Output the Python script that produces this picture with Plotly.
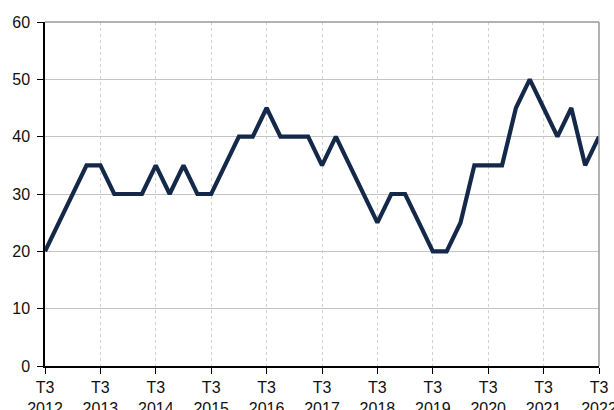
import plotly.graph_objects as go

quarters = []
for y in range(2012, 2023):
    for q in (1, 2, 3, 4):
        if (y == 2012 and q < 3) or (y == 2022 and q > 3):
            continue
        quarters.append(f"T{q} {y}")

values = [20, 25, 30, 35, 35, 30, 30, 30, 35, 30, 35, 30, 30, 35, 40, 40,
          45, 40, 40, 40, 35, 40, 35, 30, 25, 30, 30, 25, 20, 20, 25, 35,
          35, 35, 45, 50, 45, 40, 45, 35, 40]

tick_vals = [q for q in quarters if q.startswith("T3")]
tick_text = [q.replace(" ", "<br>") for q in tick_vals]
y_ticks = [0, 10, 20, 30, 40, 50, 60]

fig = go.Figure()
fig.add_trace(go.Scatter(
    x=quarters, y=values, mode="lines",
    line=dict(color="#14284A", width=4.2),
    hoverinfo="skip",
))

fig.update_layout(
    width=614, height=410,
    margin=dict(l=45, r=15, t=22, b=44, autoexpand=False),
    paper_bgcolor="white", plot_bgcolor="white",
    showlegend=False,
    font=dict(family="Liberation Sans, Arial, sans-serif", size=16, color="#111111"),
    xaxis=dict(
        type="category", categoryorder="array", categoryarray=quarters,
        range=[0, len(quarters) - 1], automargin=False,
        tickmode="array", tickvals=tick_vals, ticktext=tick_text,
        showgrid=True, gridcolor="#D0D0D0", griddash="dot", gridwidth=1,
        showline=True, linecolor="black", linewidth=1.5,
        ticks="outside", ticklen=6, tickcolor="black",
        zeroline=False,
    ),
    yaxis=dict(
        range=[0, 60], tickmode="array", tickvals=y_ticks, automargin=False,
        showgrid=True, gridcolor="#C4C4C4", gridwidth=1,
        showline=True, linecolor="black", linewidth=1.5,
        ticks="outside", ticklen=6, tickcolor="black",
        zeroline=False, ticklabelstandoff=4,
    ),
    shapes=[
        dict(type="line", xref="paper", yref="paper", x0=0, x1=1, y0=1, y1=1,
             line=dict(color="#999999", width=1.5)),
        dict(type="line", xref="paper", yref="paper", x0=1, x1=1, y0=0, y1=1,
             line=dict(color="#999999", width=1.5)),
    ],
)

fig.write_html("out.html", config={"displayModeBar": False},
               post_script="document.body.style.margin='0';document.body.style.overflow='hidden';")
